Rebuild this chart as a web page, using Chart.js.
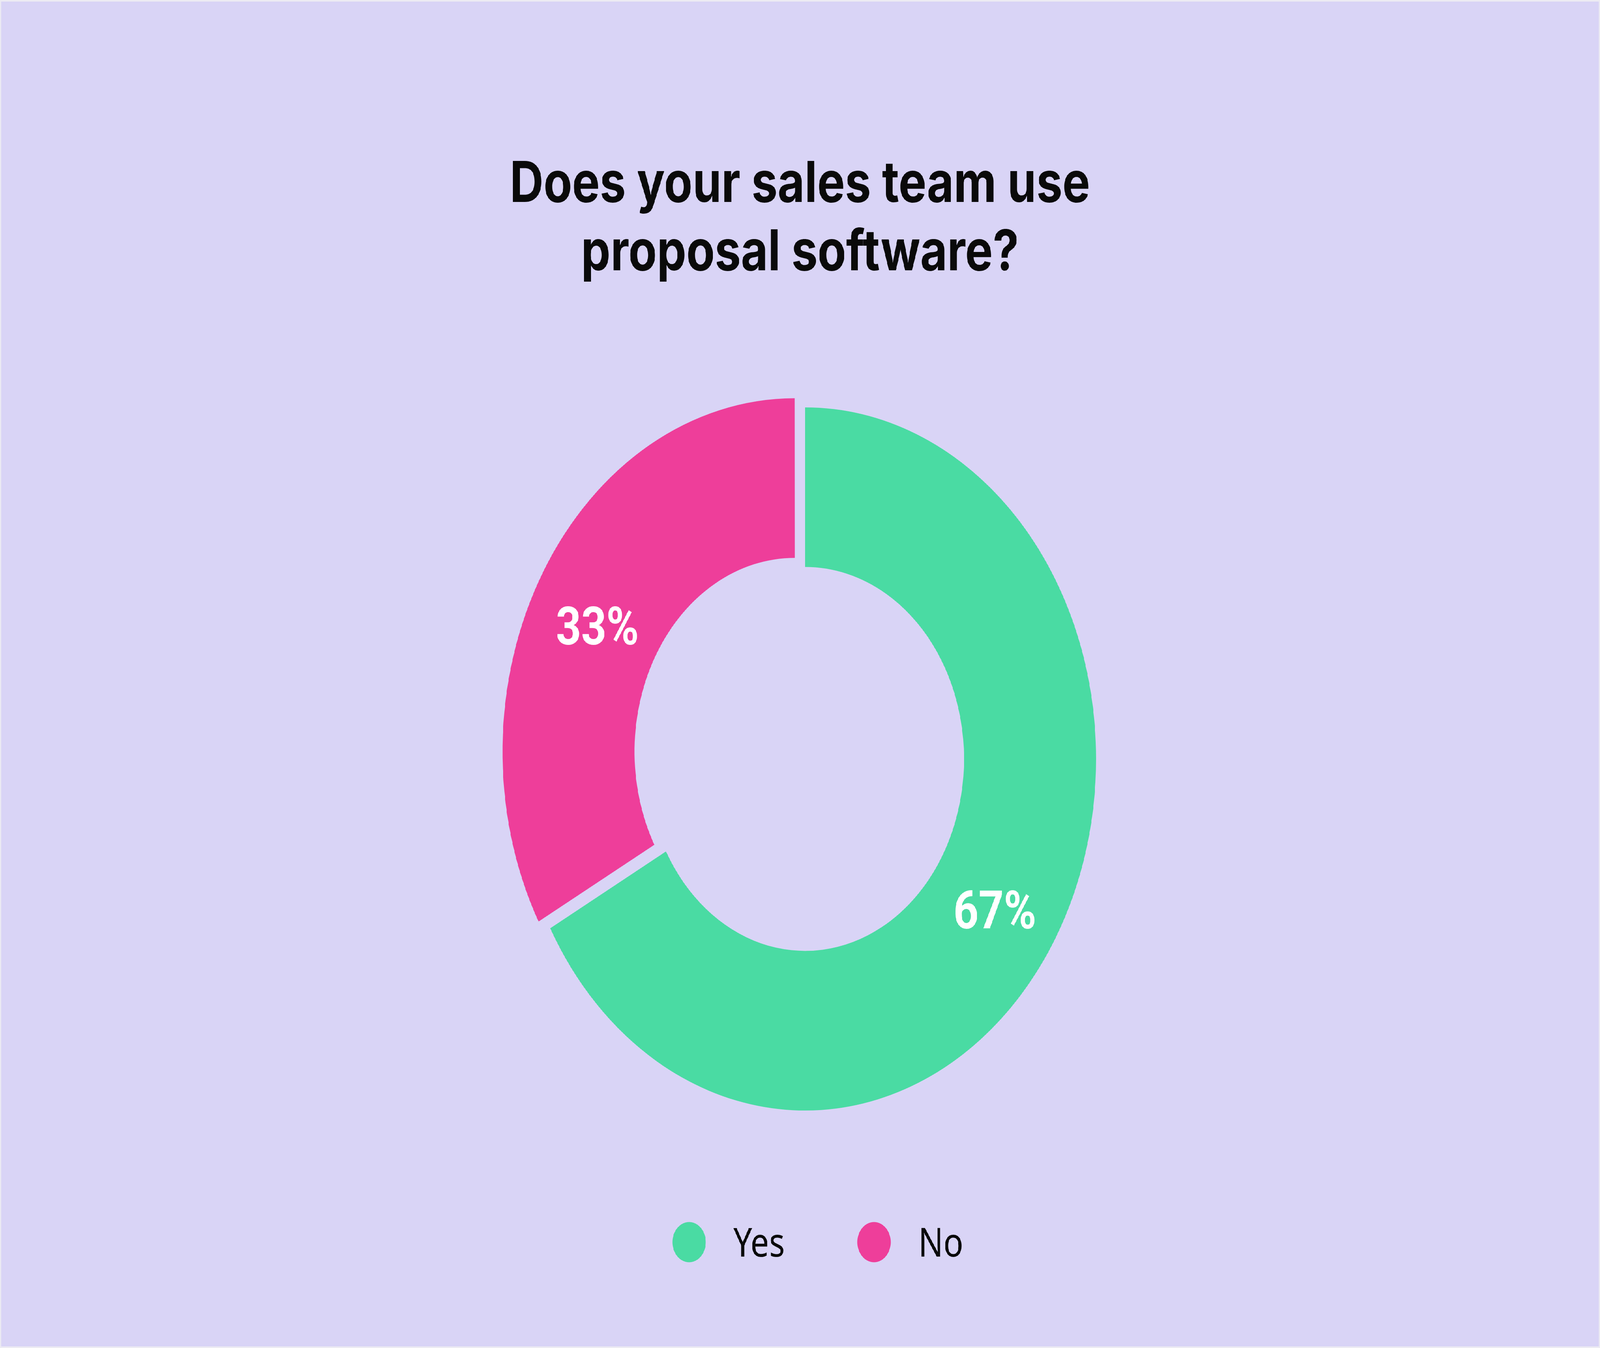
<!DOCTYPE html>
<html>
<head>
<meta charset="utf-8">
<script src="https://cdn.jsdelivr.net/npm/chart.js@4.4.1/dist/chart.umd.min.js"></script>
<style>
  html, body { margin: 0; padding: 0; background: #d9d4f6; width: 100vw; height: 100vh; overflow: hidden; }
  #wrap { position: absolute; left: 0; top: 0; width: 4950px; height: 3451px; transform-origin: 0 0; }
  #wrap::after { content: ''; position: absolute; inset: 0; border: 4px solid #ecebf3; pointer-events: none; }
  canvas { display: block; }
</style>
</head>
<body>
<div id="wrap"><canvas id="chart" width="4950" height="3451"></canvas></div>
<script>
const titleLines = ['Does your sales team use', 'proposal software?'];
const labels = ['Yes', 'No'];
const shares = [67, 33];
const colors = ['#4adba3', '#ee3e9a'];

//полотно 4950x3451 розтягуємо на все вікно (вікно може бути вужчим)
const wrap = document.getElementById('wrap');
wrap.style.transform = `scale(${window.innerWidth / 4950}, ${window.innerHeight / 3451})`;

//заголовок і легенду малюємо самі, щоб поставити їх точно
const titlePlugin = {
    id: 'titleText',
    afterDraw(chart) {
        const ctx = chart.ctx;
        ctx.save();
        ctx.fillStyle = '#0a0a0a';
        ctx.font = '700 144px Inter';
        ctx.textAlign = 'center';
        ctx.textBaseline = 'alphabetic';
        titleLines.forEach((t, i) => ctx.fillText(t, 2475, 517 + i * 175));
        ctx.restore();
    }
};

const legendPlugin = {
    id: 'dotLegend',
    afterDraw(chart) {
        const ctx = chart.ctx;
        ctx.save();
        ctx.font = '400 102px "Noto Sans"';
        ctx.textAlign = 'left';
        ctx.textBaseline = 'alphabetic';
        labels.forEach((lab, i) => {
            const cx = 2132 + i * 572;
            ctx.fillStyle = colors[i];
            ctx.beginPath();
            ctx.arc(cx, 3180, 51.5, 0, Math.PI * 2);
            ctx.fill();
            ctx.fillStyle = '#0a0a0a';
            ctx.fillText(lab, cx + 137, 3217);
        });
        ctx.restore();
    }
};

//підписи відсотків посередині кожного сегмента
const pctPlugin = {
    id: 'pctLabels',
    afterDatasetsDraw(chart) {
        const ctx = chart.ctx;
        const meta = chart.getDatasetMeta(0);
        ctx.save();
        ctx.fillStyle = '#ffffff';
        ctx.font = '700 136px Roboto';
        ctx.textAlign = 'center';
        ctx.textBaseline = 'middle';
        meta.data.forEach((arc, i) => {
            const p = arc.getProps(['x', 'y', 'startAngle', 'endAngle', 'innerRadius', 'outerRadius'], true);
            const mid = (p.startAngle + p.endAngle) / 2;
            const r = (p.innerRadius + p.outerRadius) / 2 + (arc.options.offset || 0) / 4;
            ctx.fillText(shares[i] + '%', p.x + Math.cos(mid) * r - 12, p.y + Math.sin(mid) * r + 46);
        });
        ctx.restore();
    }
};

new Chart(document.getElementById('chart').getContext('2d'), {
    type: 'doughnut',
    data: {
        labels: labels,
        datasets: [{
            data: shares,
            backgroundColor: colors,
            borderWidth: 0,
            offset: [0, 148],
            clip: false
        }]
    },
    options: {
        responsive: false,
        devicePixelRatio: 1,
        animation: false,
        radius: 900,
        cutout: '54.6%',
        layout: { padding: { left: 1491, right: 1459, top: 943, bottom: 508 } },
        plugins: {
            legend: { display: false },
            tooltip: { enabled: false },
            title: { display: false }
        }
    },
    plugins: [pctPlugin, titlePlugin, legendPlugin]
});
</script>
</body>
</html>
